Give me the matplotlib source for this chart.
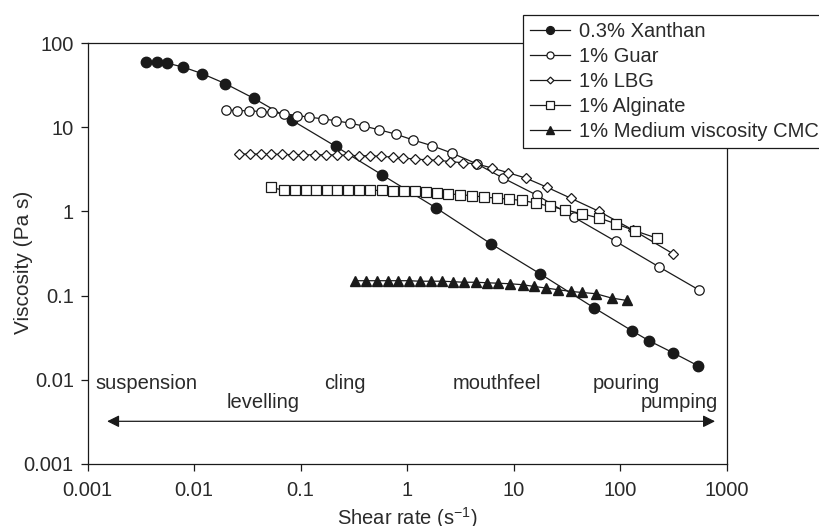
import matplotlib
matplotlib.use("Agg")
import matplotlib.pyplot as plt
from matplotlib.ticker import FuncFormatter, NullLocator

plt.rcParams['font.family'] = ['Liberation Sans', 'DejaVu Sans']
plt.rcParams['mathtext.fontset'] = 'custom'
plt.rcParams['mathtext.rm'] = 'Liberation Sans'
plt.rcParams['mathtext.it'] = 'Liberation Sans'
plt.rcParams['mathtext.default'] = 'regular'

# data (shear rate s^-1, viscosity Pa s)
xanthan_x = [0.0035, 0.00445, 0.00558, 0.0079, 0.0118, 0.0195, 0.0365, 0.0834, 0.214,
             0.579, 1.86, 6.12, 17.7, 56.8, 129, 187, 313, 538]
xanthan_y = [58.9, 58.9, 57.8, 51.9, 43.5, 33.1, 22.0, 12.05, 5.92,
             2.73, 1.106, 0.413, 0.182, 0.0718, 0.0383, 0.0291, 0.0210, 0.0147]

guar_x = [0.0198, 0.0254, 0.0327, 0.0421, 0.0541, 0.0702, 0.0917, 0.1205, 0.161, 0.2145,
          0.290, 0.396, 0.547, 0.780, 1.126, 1.72, 2.63, 4.49, 7.99, 16.7, 36.6, 91.3, 233, 546]
guar_y = [16.1, 15.8, 15.7, 15.4, 15.0, 14.5, 13.8, 13.2, 12.6, 11.95,
          11.2, 10.3, 9.34, 8.30, 7.10, 6.03, 4.94, 3.69, 2.49, 1.55, 0.858, 0.440, 0.219, 0.1175]

lbg_x = [0.0263, 0.0334, 0.0421, 0.0526, 0.0667, 0.0841, 0.1058, 0.1362, 0.1729, 0.2178,
         0.276, 0.350, 0.447, 0.571, 0.731, 0.919, 1.184, 1.525, 1.959, 2.52,
         3.32, 4.40, 6.30, 8.79, 13.05, 20.4, 34.3, 63.7, 131, 315]
lbg_y = [4.81, 4.81, 4.81, 4.78, 4.78, 4.71, 4.71, 4.71, 4.71, 4.68,
         4.65, 4.59, 4.59, 4.50, 4.43, 4.31, 4.19, 4.11, 4.05, 3.92,
         3.79, 3.69, 3.28, 2.90, 2.49, 1.95, 1.44, 1.00, 0.606, 0.314]

alg_x = [0.0526, 0.0702, 0.0884, 0.1114, 0.1392, 0.1754, 0.2207, 0.280, 0.3527, 0.447,
         0.576, 0.731, 0.933, 1.184, 1.502, 1.892, 2.43, 3.13, 4.09, 5.26,
         6.93, 9.03, 12.04, 16.1, 21.9, 30.3, 43.5, 63.7, 91.3, 137.7, 220]
alg_y = [1.93, 1.78, 1.78, 1.78, 1.78, 1.78, 1.78, 1.78, 1.78, 1.78,
         1.78, 1.75, 1.73, 1.73, 1.71, 1.65, 1.62, 1.58, 1.54, 1.48,
         1.44, 1.40, 1.35, 1.26, 1.15, 1.05, 0.939, 0.835, 0.714, 0.590, 0.483]

cmc_x = [0.3235, 0.408, 0.517, 0.656, 0.825, 1.04, 1.32, 1.67, 2.14, 2.71, 3.44, 4.40,
         5.58, 7.17, 9.23, 12.15, 15.5, 20.1, 26.2, 34.3, 43.5, 59.3, 83.2, 115]
cmc_y = [0.1503, 0.1503, 0.1503, 0.1503, 0.1503, 0.1503, 0.1483, 0.1483, 0.1483, 0.1462,
         0.1442, 0.1442, 0.1422, 0.1403, 0.1384, 0.1347, 0.1286, 0.1231, 0.1175, 0.1122,
         0.1091, 0.1053, 0.0936, 0.0877]

labels = ['0.3% Xanthan', '1% Guar', '1% LBG', '1% Alginate', '1% Medium viscosity CMC']

# process regions written under the plot
regions = ['suspension', 'levelling', 'cling', 'mouthfeel', 'pouring', 'pumping']
region_x = [0.00118, 0.0200, 0.165, 2.68, 55.6, 828]
region_y = [0.00899, 0.00535, 0.00899, 0.00899, 0.00899, 0.00535]

ink = '#1a1a1a'
txt = '#2a2a2a'
fs = 14.5

fig = plt.figure(figsize=(8.2, 5.26), dpi=100)
ax = fig.add_axes([0.107, 0.118, 0.779, 0.800])

ax.plot(xanthan_x, xanthan_y, '-o', color=ink, lw=0.9, ms=7.5, mfc=ink, mec=ink, label=labels[0])
ax.plot(guar_x, guar_y, '-o', color=ink, lw=0.9, ms=6.8, mfc='white', mec=ink, mew=0.9, label=labels[1])
ax.plot(lbg_x, lbg_y, '-D', color=ink, lw=0.9, ms=4.6, mfc='white', mec=ink, mew=0.9, label=labels[2])
ax.plot(alg_x, alg_y, '-s', color=ink, lw=0.9, ms=7.0, mfc='white', mec=ink, mew=0.9, label=labels[3])
ax.plot(cmc_x, cmc_y, '-^', color=ink, lw=0.9, ms=6.8, mfc=ink, mec=ink, label=labels[4])

ax.set_xscale('log')
ax.set_yscale('log')
ax.set_xlim(0.001, 1000)
ax.set_ylim(0.001, 100)
ax.xaxis.set_minor_locator(NullLocator())
ax.yaxis.set_minor_locator(NullLocator())
fmt = FuncFormatter(lambda v, _: f'{v:g}')
ax.xaxis.set_major_formatter(fmt)
ax.yaxis.set_major_formatter(fmt)
ax.tick_params(direction='out', length=5, width=0.9, color=ink, labelsize=fs,
               labelcolor=txt)
ax.tick_params(axis='x', pad=7)
ax.tick_params(axis='y', pad=5)
for s in ax.spines.values():
    s.set_linewidth(0.9)
    s.set_color(ink)

ax.set_xlabel('Shear rate (s$^{-1}$)', fontsize=14.5, color=txt, va='top')
ax.xaxis.set_label_coords(0.5, -0.099)
ax.set_ylabel('Viscosity (Pa s)', fontsize=15, color=txt)
ax.yaxis.set_label_coords(-0.086, 0.48)

for name, x, y in zip(regions, region_x, region_y):
    ha = 'right' if name == 'pumping' else 'left'
    ax.text(x, y, name, ha=ha, va='center', fontsize=fs, color=txt)

ax.annotate('', xy=(780, 0.00321), xytext=(0.00152, 0.00321),
            arrowprops=dict(arrowstyle='<|-|>', color=ink, lw=0.9,
                            mutation_scale=18, shrinkA=0, shrinkB=0))

leg = fig.legend(loc='upper left', bbox_to_anchor=(523 / 820, 1 - 15 / 526),
                 bbox_transform=fig.transFigure, fontsize=fs, frameon=True,
                 fancybox=False, framealpha=1, edgecolor=ink, borderaxespad=0,
                 handlelength=2.0, handletextpad=0.45, labelspacing=0.3,
                 borderpad=0.35, markerscale=0.75)
leg.get_frame().set_linewidth(0.9)
for t in leg.get_texts():
    t.set_color(txt)

fig.savefig('out.png', dpi=100)
